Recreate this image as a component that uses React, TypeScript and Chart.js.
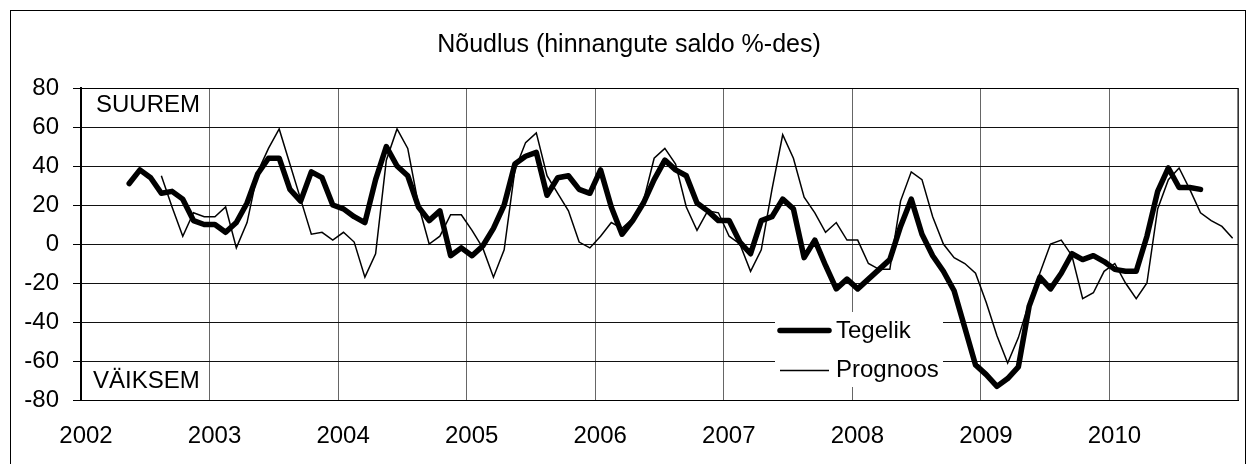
import React, { useEffect, useRef } from "react";
import { Chart, registerables } from "chart.js";

Chart.register(...registerables);

// Monthly values, Jan 2002 .. Dec 2010 (index 0 = Jan 2002)
const years = ["2002", "2003", "2004", "2005", "2006", "2007", "2008", "2009", "2010"];

const tegelikStart = 4; // May 2002
const tegelik = [
  31, 38, 34, 26, 27, 23, 12, 10,
  10, 6, 11, 21, 36, 44, 44, 28, 22, 37, 34, 20,
  18, 14, 11, 33, 50, 40, 35, 19, 12, 17, -6, -2,
  -6, -1, 8, 20, 41, 45, 47, 25, 34, 35, 28, 26,
  38, 19, 5, 12, 21, 33, 43, 38, 35, 21, 17, 12,
  12, 1, -5, 12, 14, 23, 18, -7, 2, -11, -23, -18,
  -23, -18, -13, -8, 9, 23, 5, -6, -14, -24, -43, -62,
  -67, -73, -69, -63, -32, -17, -23, -15, -5, -8, -6, -9,
  -13, -14, -14, 4, 27, 39, 29, 29, 28,
];

const prognoosStart = 7; // Aug 2002
const prognoos = [
  35, 19, 4, 16, 14,
  14, 19, -2, 11, 37, 49, 59, 41, 23, 5, 6, 2,
  6, 1, -17, -5, 43, 59, 49, 20, 0, 4, 15, 15,
  7, -2, -17, -3, 38, 52, 57, 35, 26, 17, 1, -2,
  4, 11, 8, 13, 22, 44, 49, 41, 19, 7, 17, 16,
  4, 0, -14, -3, 28, 56, 44, 24, 16, 6, 11, 2,
  2, -10, -13, -13, 22, 37, 33, 14, 0, -7, -10, -15,
  -30, -47, -61, -48, -30, -15, 0, 2, -6, -28, -25, -14,
  -10, -20, -28, -20, 18, 33, 39, 28, 16, 12, 9, 3,
];

const seriesNames = ["Tegelik", "Prognoos"];
const yTicks = [-80, -60, -40, -20, 0, 20, 40, 60, 80];

const FONT = "'Liberation Sans', Arial, sans-serif";

function toPoints(values: number[], start: number) {
  return values.map((v, k) => ({ x: start + k + 0.5, y: v }));
}

const decorPlugin = {
  id: "decor",
  beforeDatasetsDraw(chart: any) {
    const { ctx, chartArea } = chart;
    ctx.save();
    ctx.strokeStyle = "#000";
    ctx.lineWidth = 1;
    ctx.strokeRect(chartArea.left, chartArea.top + 0.5, chartArea.right - chartArea.left, chartArea.bottom - chartArea.top);
    ctx.restore();
  },
  afterDatasetsDraw(chart: any) {
    const { ctx } = chart;
    ctx.save();
    // outer frame
    ctx.strokeStyle = "#000";
    ctx.lineWidth = 1;
    ctx.strokeRect(10.5, 10.5, 1235, 480);

    // title
    ctx.fillStyle = "#000";
    ctx.font = `25px ${FONT}`;
    ctx.textAlign = "center";
    ctx.textBaseline = "alphabetic";
    ctx.fillText("Nõudlus (hinnangute saldo %-des)", 629, 52);

    // corner notes
    ctx.font = `24px ${FONT}`;
    ctx.textAlign = "left";
    ctx.textBaseline = "middle";
    ctx.fillText("SUUREM", 96, 105);
    ctx.fillText("VÄIKSEM", 93, 381);

    // legend
    ctx.fillStyle = "#fff";
    ctx.fillRect(775, 312, 168, 75);
    ctx.strokeStyle = "#000";
    ctx.lineCap = "round";
    ctx.lineWidth = 5.5;
    ctx.beginPath();
    ctx.moveTo(780, 330.5);
    ctx.lineTo(829, 330.5);
    ctx.stroke();
    ctx.lineCap = "butt";
    ctx.lineWidth = 1.5;
    ctx.beginPath();
    ctx.moveTo(780, 370.5);
    ctx.lineTo(829, 370.5);
    ctx.stroke();
    ctx.fillStyle = "#000";
    ctx.font = `24px ${FONT}`;
    ctx.textBaseline = "middle";
    ctx.fillText(seriesNames[0], 836, 331);
    ctx.fillText(seriesNames[1], 836, 370);
    ctx.restore();
  },
};

export default function App() {
  const ref = useRef<HTMLCanvasElement | null>(null);

  useEffect(() => {
    document.body.style.margin = "0";
    const canvas = ref.current;
    if (!canvas) return;
    const chart = new Chart(canvas, {
      type: "line",
      data: {
        datasets: [
          {
            label: seriesNames[1],
            data: toPoints(prognoos, prognoosStart),
            borderColor: "#000",
            borderWidth: 1.5,
            pointRadius: 0,
            tension: 0,
            fill: false,
            order: 1,
          },
          {
            label: seriesNames[0],
            data: toPoints(tegelik, tegelikStart),
            borderColor: "#000",
            borderWidth: 5.5,
            borderJoinStyle: "round",
            borderCapStyle: "round",
            pointRadius: 0,
            tension: 0,
            fill: false,
            order: 2,
          },
        ],
      },
      options: {
        responsive: false,
        animation: false,
        events: [],
        layout: { padding: { top: 88, right: 10, left: 0, bottom: 0 } },
        plugins: {
          legend: { display: false },
          title: { display: false },
          tooltip: { enabled: false },
        },
        scales: {
          x: {
            type: "linear",
            min: 0,
            max: 108,
            afterFit: (s: any) => {
              s.height = 64;
              s.paddingLeft = 0;
              s.paddingRight = 0;
            },
            ticks: {
              stepSize: 12,
              autoSkip: false,
              maxRotation: 0,
              padding: 22,
              labelOffset: 5,
              color: "#000",
              font: { family: FONT, size: 24 },
              callback: (v: any) => {
                const idx = Math.round(Number(v) / 12);
                return idx < years.length ? years[idx] : "";
              },
            },
            grid: { color: "#666", lineWidth: 1, drawTicks: false },
            border: { display: true, color: "#000", width: 1 },
          },
          y: {
            min: yTicks[0],
            max: yTicks[yTicks.length - 1],
            afterFit: (s: any) => {
              s.width = 81;
              s.paddingTop = 0;
              s.paddingBottom = 0;
            },
            afterBuildTicks: (s: any) => {
              s.ticks = yTicks.map((v) => ({ value: v }));
            },
            ticks: {
              padding: 14,
              color: "#000",
              font: { family: FONT, size: 24 },
            },
            grid: { color: "#111", lineWidth: 1, tickLength: 8, tickColor: "#000" },
            border: { display: true, color: "#000", width: 2 },
          },
        },
      },
      plugins: [decorPlugin],
    });
    return () => chart.destroy();
  }, []);

  return <canvas ref={ref} width={1248} height={464} style={{ display: "block" }} />;
}
